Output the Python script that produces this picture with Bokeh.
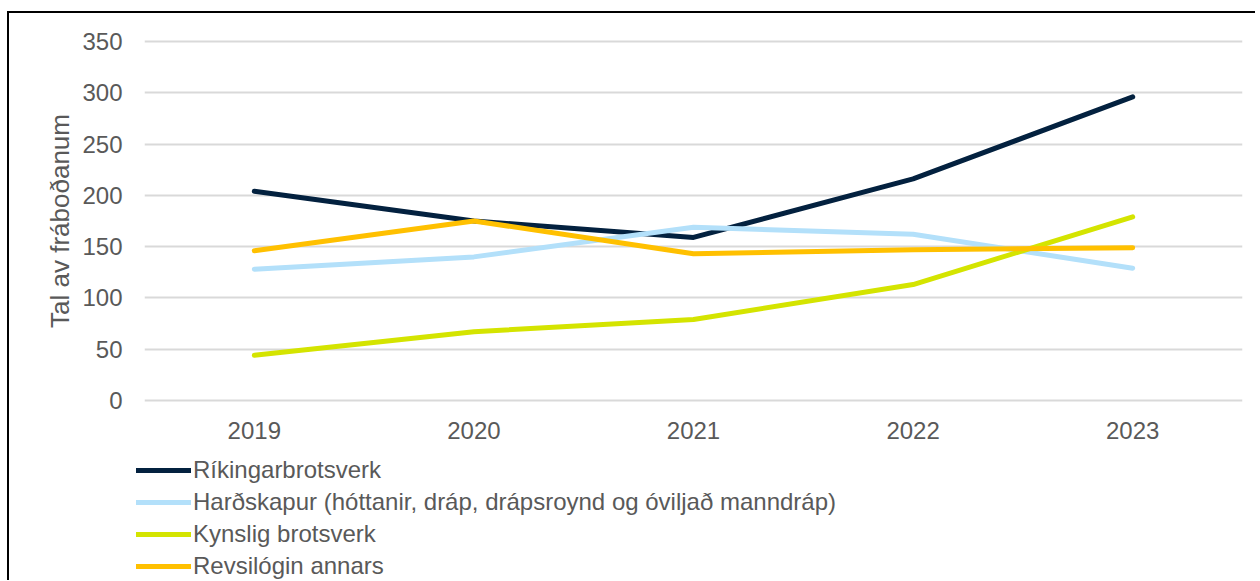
from bokeh.plotting import figure
from bokeh.models import Legend, LegendItem, FixedTicker
from bokeh.layouts import column
from bokeh.embed import file_html
from bokeh.resources import INLINE

years = ["2019", "2020", "2021", "2022", "2023"]
series_names = [
    "Ríkingarbrotsverk",
    "Harðskapur (hóttanir, dráp, drápsroynd og óviljað manndráp)",
    "Kynslig brotsverk",
    "Revsilógin annars",
]
rikingarbrotsverk = [204, 175, 159, 216, 296]
hardskapur = [128, 140, 169, 162, 129]
kynslig = [44, 67, 79, 113, 179]
revsilogin = [146, 175, 143, 147, 149]
y_ticks = [0, 50, 100, 150, 200, 250, 300, 350]
y_label = "Tal av fráboðanum"

colors = ["#03213f", "#b3e0fa", "#d4e400", "#ffc000"]
FONT = "Liberation Sans"
TXT = "#595959"
all_series = [rikingarbrotsverk, hardskapur, kynslig, revsilogin]

# ---- main chart ----
p = figure(
    x_range=years, y_range=(-2, 352),
    width=1246, height=435,
    output_backend="svg", toolbar_location=None,
    min_border_left=135, min_border_right=13, min_border_top=26, min_border_bottom=46,
)
p.outline_line_color = None
p.x_range.range_padding = 0

for vals, c in zip(all_series, colors):
    p.line(years, vals, line_color=c, line_width=5, line_cap="round", line_join="round")

p.yaxis.ticker = FixedTicker(ticks=y_ticks)
p.ygrid.grid_line_color = "#d9d9d9"
p.ygrid.grid_line_width = 2
p.xgrid.grid_line_color = None
for ax in (p.xaxis[0], p.yaxis[0]):
    ax.axis_line_color = None
    ax.major_tick_line_color = None
    ax.minor_tick_line_color = None
    ax.major_label_text_font = FONT
    ax.major_label_text_font_size = "24px"
    ax.major_label_text_color = TXT
p.yaxis.major_label_standoff = 16
p.xaxis.major_label_standoff = 13
p.yaxis.axis_label = y_label
p.yaxis.axis_label_text_font = FONT
p.yaxis.axis_label_text_font_size = "26px"
p.yaxis.axis_label_text_font_style = "normal"
p.yaxis.axis_label_text_color = TXT
p.yaxis.axis_label_standoff = 4

# ---- legend strip below ----
p2 = figure(
    x_range=years, y_range=(1000, 2000),
    width=1246, height=132,
    output_backend="svg", toolbar_location=None,
    min_border_left=0, min_border_right=0, min_border_top=0, min_border_bottom=0,
)
p2.outline_line_color = None
p2.axis.visible = False
p2.grid.visible = False
renderers = []
for vals, c in zip(all_series, colors):
    r = p2.line(years, vals, line_color=c, line_width=5, line_cap="round")
    renderers.append(r)

legend = Legend(
    items=[LegendItem(label=n, renderers=[r]) for n, r in zip(series_names, renderers)],
    orientation="vertical", location=(127, 0),
    label_text_font=FONT, label_text_font_size="24px", label_text_color=TXT,
    glyph_width=55, glyph_height=28, label_height=28, spacing=4,
    label_standoff=2, padding=0, margin=0,
    border_line_color=None, background_fill_alpha=0,
)
p2.add_layout(legend, "center")

layout = column(p, column(p2, spacing=0), spacing=0)
layout.styles = {"border-left": "2px solid #000", "border-top": "2px solid #000",
                 "margin-left": "7px", "margin-top": "11px"}

open("out.html", "w").write(file_html(layout, INLINE))
